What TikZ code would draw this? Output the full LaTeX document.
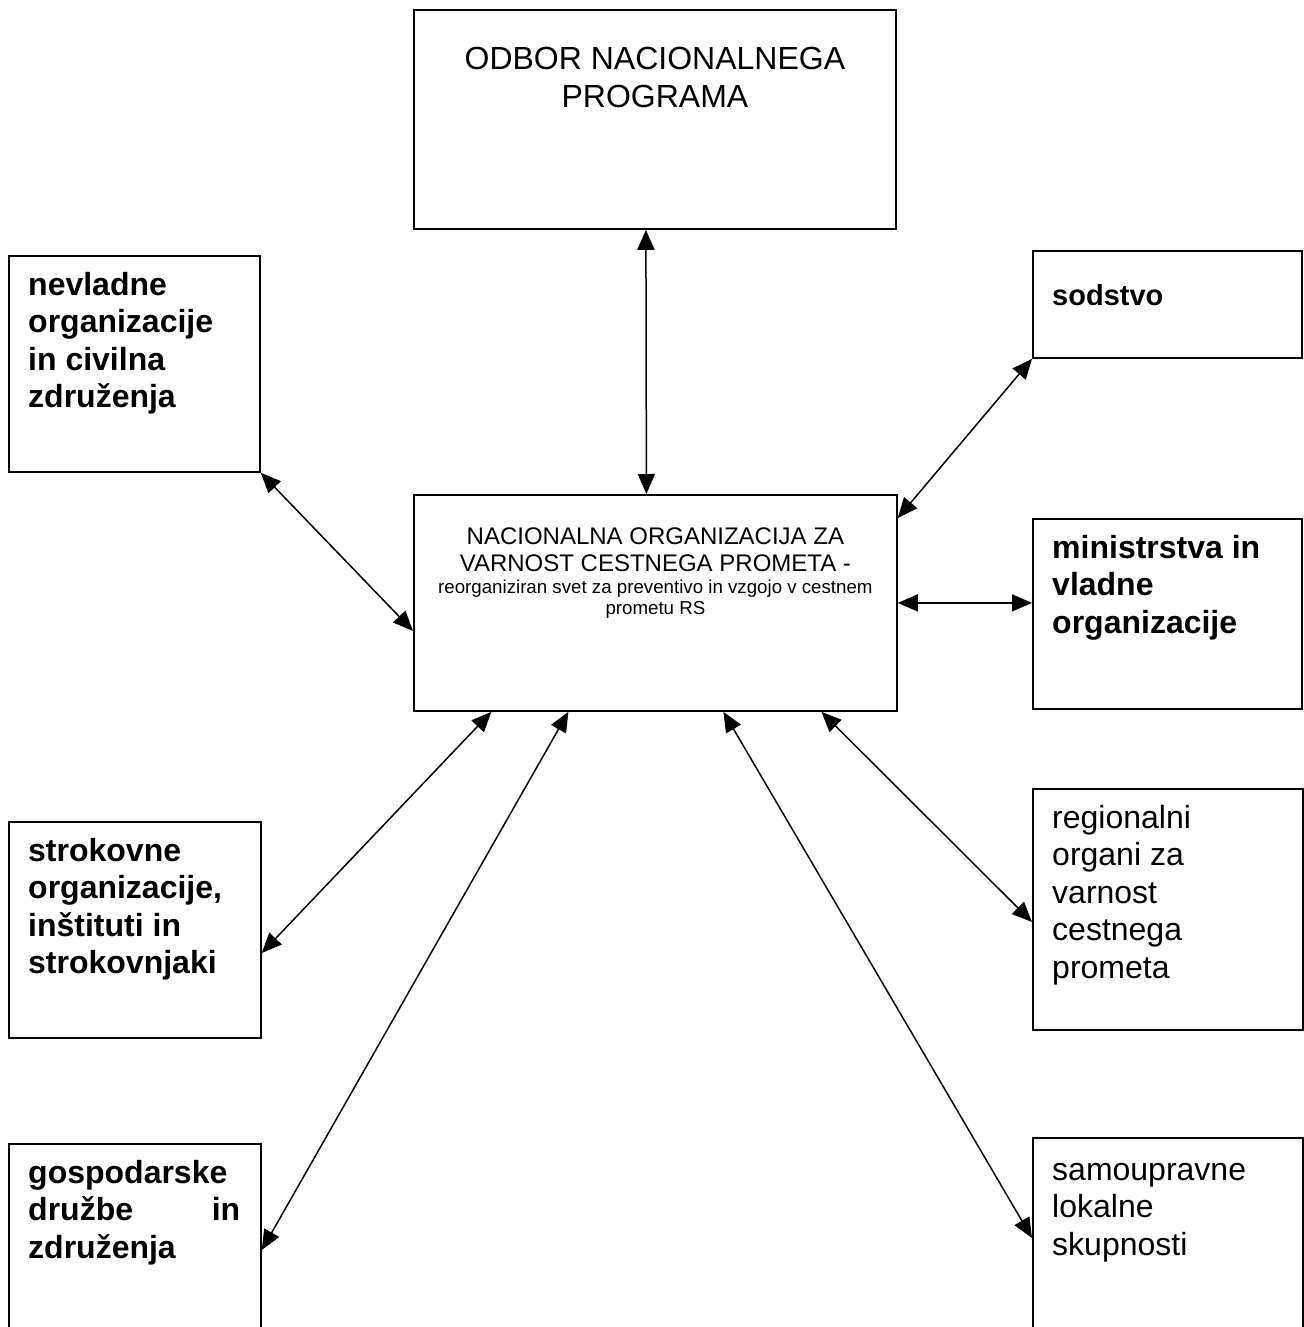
\documentclass[tikz,border=0pt]{standalone}
\usepackage{fontspec}
\setmainfont{Liberation Sans}
\usetikzlibrary{arrows.meta}
\tikzset{ box/.style  = { rectangle
                        , draw
                        , line width = 1.8pt
                        , inner sep  = 0pt
                        , anchor     = north west
                        },
          side/.style = { anchor    = north west
                        , inner sep = 0pt
                        , align     = left
                        , xshift    = 20pt
                        , yshift    = -17pt
                        , font      = \fontsize{32}{37.5}\selectfont
                        },
          head/.style = { anchor    = north
                        , inner sep = 0pt
                        , align     = center
                        },
          link/.style = { <->
                        , >         = {Triangle[length=20pt, width=17pt]}
                        , line width = 1.5pt
                        }
        }

\begin{document}
\begin{tikzpicture}[x=1pt, y=-1pt]
            \useasboundingbox (0,0) rectangle (1303,1327);
            % top and centre
            \node[box, minimum width=482pt, minimum height=219pt,
                  label={[head, yshift=-38pt, font=\fontsize{32}{38}\selectfont]north:{ODBOR NACIONALNEGA\\ PROGRAMA}}]
                  (odbor) at (413,9) {};
            \node[box, minimum width=483pt, minimum height=216pt,
                  label={[head, yshift=-34pt, font=\fontsize{24}{27}\selectfont]north:{NACIONALNA ORGANIZACIJA ZA\\
                         VARNOST CESTNEGA PROMETA -\\[-5pt]
                         {\fontsize{18.7}{21}\selectfont reorganiziran svet za preventivo in vzgojo v cestnem}\\[-6pt]
                         {\fontsize{18.7}{21}\selectfont prometu RS}}}]
                  (noc) at (413,494) {};
            % left column
            \node[box, minimum width=251pt, minimum height=216pt,
                  label={[side, font=\fontsize{32}{37.5}\selectfont\bfseries]north west:{nevladne\\ organizacije\\ in civilna\\ združenja}}]
                  (nvo) at (8,255) {};
            \node[box, minimum width=252pt, minimum height=216pt,
                  label={[side, font=\fontsize{32}{37.5}\selectfont\bfseries]north west:{strokovne\\ organizacije,\\ inštituti in\\ strokovnjaki}}]
                  (stro) at (8,821) {};
            \node[box, minimum width=252pt, minimum height=200pt,
                  label={[side, font=\fontsize{32}{37.5}\selectfont\bfseries]north west:{gospodarske\\ \hbox to 212pt{družbe\hfill in}\\ združenja}}]
                  (gosp) at (8,1143) {};
            % right column
            \node[box, minimum width=269pt, minimum height=107pt,
                  label={[side, yshift=-17pt, font=\fontsize{29}{34}\selectfont\bfseries]north west:{sodstvo}}]
                  (sod) at (1032,250) {};
            \node[box, minimum width=269pt, minimum height=190pt,
                  label={[side, font=\fontsize{32}{37.5}\selectfont\bfseries]north west:{ministrstva in\\ vladne\\ organizacije}}]
                  (min) at (1032,518) {};
            \node[box, minimum width=270pt, minimum height=241pt,
                  label={[side]north west:{regionalni\\ organi za\\ varnost\\ cestnega\\ prometa}}]
                  (reg) at (1032,788) {};
            \node[box, minimum width=270pt, minimum height=200pt,
                  label={[side, yshift=-9pt]north west:{samoupravne\\ lokalne\\ skupnosti}}]
                  (sam) at (1032,1137) {};
            % arrows
            \path[link] ([xshift=-9pt]odbor.south) edge ([xshift=-9pt]noc.north);
            \path[link] (nvo.south east) edge ([yshift=-28pt]noc.west);
            \path[link] (sod.south west) edge ([yshift=-24pt]noc.north east);
            \path[link] (noc.east) edge (noc.east -| min.west);
            \path[link] ([yshift=-132pt]stro.north east) edge ([xshift=-164pt]noc.south);
            \path[link] ([yshift=-107pt]gosp.north east) edge ([xshift=-87pt]noc.south);
            \path[link] ([yshift=-134pt]reg.north west) edge ([xshift=166pt]noc.south);
            \path[link] ([yshift=-101pt]sam.north west) edge ([xshift=68pt]noc.south);
\end{tikzpicture}
\end{document}
